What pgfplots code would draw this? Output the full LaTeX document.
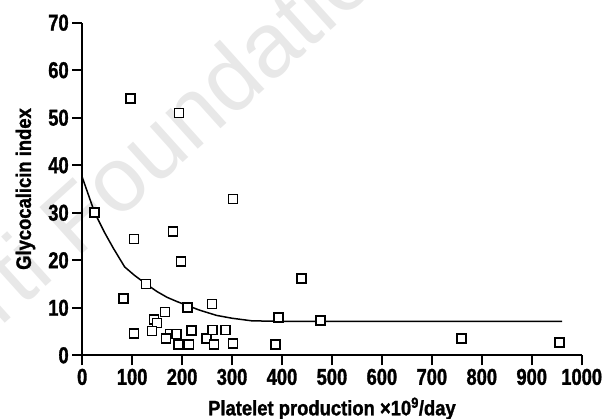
\documentclass[border=0pt]{standalone}
\usepackage{pgfplots}
\pgfplotsset{compat=1.18}
\usepackage{fontspec}
\setmainfont{Liberation Sans}[FakeStretch=0.88, BoldFeatures={FakeBold=1.3}]
\newfontfamily\tickfont{Liberation Sans}[FakeStretch=0.8, BoldFeatures={FakeBold=1.3}]
\newfontfamily\wmfont{Liberation Sans}
\begin{document}
\begin{tikzpicture}
% faint watermark (behind the chart)
\begin{scope}[overlay]
\node[rotate=42, anchor=base west, text=black!9, inner sep=0pt, font=\wmfont\fontsize{92}{92}\selectfont] at (-6bp,96bp) {Foundation};
\node[rotate=42, anchor=base east, text=black!9, inner sep=0pt, font=\wmfont\fontsize{92}{92}\selectfont] at (-25bp,79bp) {Ferrata Storti};
\end{scope}
\begin{axis}[
  name=ax,
  at={(0,0)}, anchor=south west,
  scale only axis,
  width=499.5bp, height=332.6bp,
  xmin=0, xmax=1000, ymin=0, ymax=70,
  axis lines*=left,
  axis line style={-, line width=2bp, black},
  tick style={line width=2bp, black},
  major tick length=10bp,
  tick align=outside,
  xtick={0,100,...,1000},
  ytick={0,10,...,70},
  ticklabel style={font=\tickfont\bfseries\fontsize{23}{24}\selectfont},
  /pgf/number format/assume math mode=true,
  /pgf/number format/1000 sep={},
  xlabel={Platelet production ×10\textsuperscript{9}/day},
  ylabel={Glycocalicin index},
  xlabel style={at={(axis description cs:0.5,0)}, anchor=base, yshift=-60bp, font=\bfseries\fontsize{21}{22}\selectfont},
  ylabel style={at={(axis description cs:0,0.5)}, anchor=center, yshift=56.7bp, font=\bfseries\fontsize{21}{22}\selectfont},
  clip=false,
]
\addplot[black, line width=1.5bp, mark=none] coordinates {
 (0,37.5) (25,30) (45,25.8) (62,22.6) (85,18.6) (105,16.8) (128,15) (150,13.4) (170,12.2) (190,11.3) (210,10.5) (235,9.5) (269,8.4) (300,7.8) (340,7.25) (400,7.15) (961,7.15)
};
\addplot[only marks, mark=square*, mark size=4.5bp, mark options={draw=black, fill=white, line width=1.7bp}] coordinates {
 (25,30) (97,54.1) (194,51) (302,32.9) (182,26) (104,24.5) (198,19.8) (439,16.1)
 (128,15) (83,11.9) (260,10.8) (211,10) (166,9.1) (393,7.9) (477,7.3) (144,7.6)
 (150,6.8) (104,4.6) (140,5.1) (176,4.5) (189,4.5) (168,3.5) (193,2.3) (214,2.3)
 (219,5.2) (249,3.6) (261,5.3) (264,2.3) (287,5.3) (302,2.5) (387,2.3) (759,3.6) (956,2.7)
};
\end{axis}
\pgfresetboundingbox
\useasboundingbox (-82.2bp,-63.7bp) rectangle (523.8bp,355.3bp);
\end{tikzpicture}
\end{document}
